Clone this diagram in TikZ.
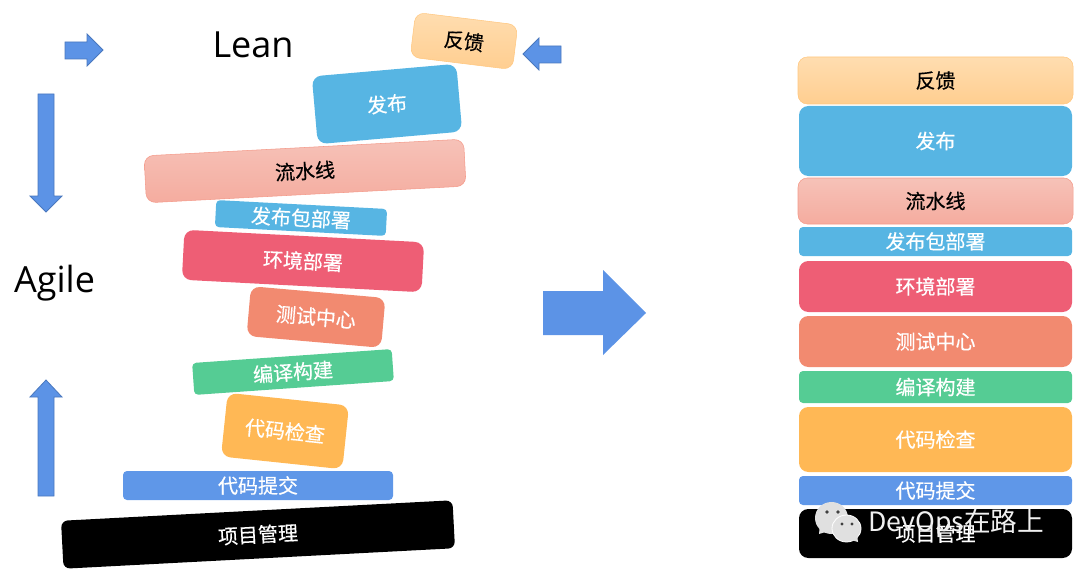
\documentclass[tikz,border=0pt]{standalone}
\usepackage{fontspec}
\setmainfont[FakeBold=0.4]{Noto Sans CJK SC}
\newfontfamily\latinfont{Open Sans}
\newfontfamily\markfont{Noto Sans CJK SC}
\usetikzlibrary{math}

\definecolor{arrowblue}{HTML}{5C93E6}
\definecolor{arrowline}{HTML}{4A78BE}
\definecolor{relblue}{HTML}{57B5E3}
\definecolor{envred}{HTML}{EE5E75}
\definecolor{testred}{HTML}{F28A70}
\definecolor{buildgreen}{HTML}{55CC94}
\definecolor{checkorange}{HTML}{FFB855}
\definecolor{commitblue}{HTML}{5F97E8}
\definecolor{fbtop}{HTML}{FFDDB0}
\definecolor{fbbottom}{HTML}{FFCE90}
\definecolor{fbline}{HTML}{FFC77F}
\definecolor{pipetop}{HTML}{F6C2B8}
\definecolor{pipebottom}{HTML}{F5AC9F}
\definecolor{pipeline}{HTML}{F49A8A}

\tikzset{
	stack/.style n args = {2}{rectangle, rounded corners = 7pt, inner sep = 0pt, font = \fontsize{15}{15}\selectfont, text = white, minimum width = #1*.75pt, minimum height = #2*.75pt},
	feedback/.style = {text = black, draw = fbline, top color = fbtop, bottom color = fbbottom},
	pipe/.style = {text = black, draw = pipeline, top color = pipetop, bottom color = pipebottom},
	release/.style = {fill = relblue},
	env/.style = {fill = envred},
	testing/.style = {fill = testred},
	build/.style = {fill = buildgreen},
	check/.style = {fill = checkorange},
	commit/.style = {fill = commitblue},
	project/.style = {fill = black},
	bigword/.style = {font = \latinfont\fontsize{27}{27}\selectfont, inner sep = 0pt},
	blockarrow/.style = {draw = arrowline, fill = arrowblue, line width = .6pt, line join = miter}
}

\begin{document}
\begin{tikzpicture}[x = .75pt, y = -.75pt]

	\useasboundingbox (0,0) rectangle (1080,574);
	\tikzmath{\xr = 935.5;};

	% side arrows
	\draw [blockarrow] (65,42) -- (87,42) -- (87,34) -- (103,50) -- (87,66) -- (87,59) -- (65,59) -- cycle;
	\draw [blockarrow] (561,46) -- (539,46) -- (539,38) -- (523,54) -- (539,70) -- (539,63) -- (561,63) -- cycle;
	\draw [blockarrow] (38,94) -- (54,94) -- (54,196) -- (62,196) -- (46,212) -- (30,196) -- (38,196) -- cycle;
	\draw [blockarrow] (38,496) -- (54,496) -- (54,397) -- (62,397) -- (46,380) -- (30,397) -- (38,397) -- cycle;
	\draw [draw = none, fill = arrowblue] (543,291) -- (603,291) -- (603,270) -- (646,313) -- (603,355) -- (603,335) -- (543,335) -- cycle;

	\node [bigword] (lean) at (253,45) {Lean};
	\node [bigword] (agile) at (54.5,283) {Agile};

	% tilted stack
	\node [stack = {103}{45}, feedback, rotate = -7] (fb1) at (464,41) {反馈};
	\node [stack = {145}{68}, release, rotate = 5] (rel1) at (387,104) {发布};
	\node [stack = {320}{47}, pipe, rotate = 3] (pipe1) at (305,171) {流水线};
	\node [stack = {171}{27}, release, rounded corners = 3pt, rotate = -3] (pkg1) at (301,218) {发布包部署};
	\node [stack = {240}{50}, env, rotate = -3] (env1) at (303,261) {环境部署};
	\node [stack = {135}{50}, testing, rotate = -5] (test1) at (316,317) {测试中心};
	\node [stack = {200}{32}, build, rounded corners = 3pt, rotate = 4] (build1) at (293,372) {编译构建};
	\node [stack = {122}{64}, check, rotate = -6] (check1) at (285,431) {代码检查};
	\node [stack = {270}{29}, commit, rounded corners = 3pt] (commit1) at (258,485.5) {代码提交};
	\node [stack = {392}{48}, project, rounded corners = 5pt, rotate = 3] (proj1) at (258,534.5) {项目管理};

	% straight stack
	\node [stack = {275}{47}, feedback] (fb2) at (\xr,80.5) {反馈};
	\node [stack = {273}{70}, release] (rel2) at (\xr,141) {发布};
	\node [stack = {275}{46}, pipe] (pipe2) at (\xr,201) {流水线};
	\node [stack = {273}{29}, release, rounded corners = 3pt] (pkg2) at (\xr,241.5) {发布包部署};
	\node [stack = {273}{51}, env] (env2) at (\xr,286.5) {环境部署};
	\node [stack = {273}{51}, testing] (test2) at (\xr,341.5) {测试中心};
	\node [stack = {273}{32}, build, rounded corners = 3pt] (build2) at (\xr,387) {编译构建};
	\node [stack = {273}{65}, check] (check2) at (\xr,439.5) {代码检查};
	\node [stack = {273}{29}, commit, rounded corners = 3pt] (commit2) at (\xr,490.5) {代码提交};
	\node [stack = {273}{49}, project] (proj2) at (\xr,533.5) {项目管理};

	% watermark
	\fill [black!12] (831.5,518) ellipse (16.5 and 16);
	\fill [black!12] (819,534) -- (820,524) -- (829,531) -- cycle;
	\draw [white, line width = .6pt, fill = black!12] (846.5,528.5) ellipse (14.5 and 13.5);
	\fill [black!12] (858,542) -- (857,534) -- (851,540) -- cycle;
	\fill [black!75] (827,512) circle (1.8) (838,512) circle (1.8) (842,524) circle (1.6) (852,524) circle (1.6);
	\node [anchor = west, inner sep = 0pt, text = white!94!black, font = \markfont\fontsize{20}{20}\selectfont] (mark) at (868,523) {DevOps在路上};

\end{tikzpicture}
\end{document}
